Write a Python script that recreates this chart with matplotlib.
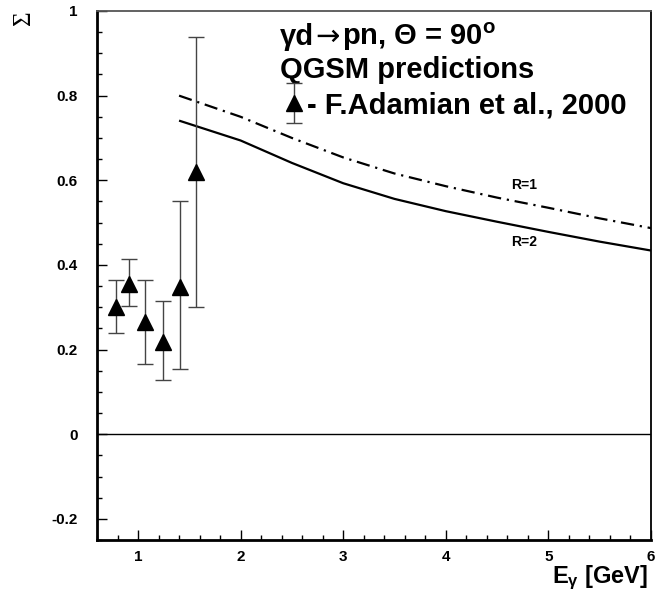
import matplotlib
matplotlib.use("Agg")
import matplotlib.pyplot as plt
from matplotlib.ticker import MultipleLocator, FuncFormatter
from matplotlib.legend_handler import HandlerErrorbar
from matplotlib.offsetbox import TextArea, HPacker, AnchoredOffsetbox

plt.rcParams['font.family'] = ['Liberation Sans', 'DejaVu Sans']
plt.rcParams['mathtext.fontset'] = 'custom'
plt.rcParams['mathtext.rm'] = 'Liberation Sans'
plt.rcParams['mathtext.bf'] = 'Liberation Sans:bold'
plt.rcParams['mathtext.it'] = 'Liberation Sans:italic'

# Data: F.Adamian et al., 2000
exp_E = [0.79, 0.91, 1.07, 1.24, 1.41, 1.565]
exp_sigma = [0.300, 0.356, 0.264, 0.218, 0.348, 0.619]
exp_err_lo = [0.060, 0.054, 0.099, 0.091, 0.195, 0.319]
exp_err_hi = [0.064, 0.057, 0.100, 0.097, 0.203, 0.320]

# QGSM predictions
qgsm_E = [1.4, 2.0, 2.5, 3.0, 3.5, 4.0, 4.5, 5.0, 5.5, 6.0]
qgsm_R1 = [0.800, 0.750, 0.700, 0.654, 0.616, 0.586, 0.559, 0.535, 0.510, 0.487]
qgsm_R2 = [0.741, 0.694, 0.641, 0.593, 0.556, 0.527, 0.502, 0.478, 0.455, 0.434]

FS = 21

fig = plt.figure(figsize=(6.67, 6.09), dpi=100)
ax = fig.add_axes([97/667, 69/609, 554/667, 529/609])

ax.set_xlim(0.6, 6.0)
ax.set_ylim(-0.25, 1.0)

ax.axhline(0, color='black', lw=1.0)

ax.plot(qgsm_E, qgsm_R2, color='black', lw=1.6, solid_capstyle='butt')
ax.plot(qgsm_E, qgsm_R1, color='black', lw=1.6,
        linestyle=(0, (6.0, 2.6, 1.0, 2.6)))

eb = ax.errorbar(exp_E, exp_sigma, yerr=[exp_err_lo, exp_err_hi], fmt='^',
                 color='black', markersize=11, ecolor='#444444', elinewidth=1.0,
                 capsize=6, capthick=1.0, mec='black')

ax.text(4.64, 0.59, 'R=1', fontsize=10, fontweight='bold', ha='left', va='center')
ax.text(4.64, 0.453, 'R=2', fontsize=10, fontweight='bold', ha='left', va='center')

# first title line: mixed fonts packed on a common baseline
ta1 = TextArea('γd', textprops=dict(fontsize=FS, fontweight='bold'))
ta2 = TextArea('→', textprops=dict(fontsize=FS, family='DejaVu Sans'))
ta3 = TextArea('pn, Θ = 90$^{\\mathbf{o}}$', textprops=dict(fontsize=FS, fontweight='bold'))
hp = HPacker(children=[ta1, ta2, ta3], align='baseline', pad=0, sep=1)
anch = AnchoredOffsetbox(loc='lower left', child=hp, pad=0, borderpad=0,
                         frameon=False, bbox_to_anchor=(2.386, 0.900),
                         bbox_transform=ax.transData)
ax.add_artist(anch)

ax.text(2.386, 0.842, 'QGSM predictions', fontsize=FS, fontweight='bold',
        ha='left', va='baseline')

leg = ax.legend([eb], ['- F.Adamian et al., 2000'], loc='center left',
                bbox_to_anchor=(0.334, 0.822), frameon=False,
                prop={'weight': 'bold', 'size': FS}, handlelength=0.8,
                handletextpad=0.05, borderpad=0, borderaxespad=0,
                handler_map={type(eb): HandlerErrorbar(yerr_size=0.70)})

# ticks
ax.xaxis.set_major_locator(MultipleLocator(1))
ax.xaxis.set_minor_locator(MultipleLocator(0.2))
ax.yaxis.set_major_locator(MultipleLocator(0.2))
ax.yaxis.set_minor_locator(MultipleLocator(0.05))
ax.yaxis.set_major_formatter(FuncFormatter(lambda v, p: ('%g' % round(v, 2)) if abs(v) > 1e-9 else '0'))
ax.xaxis.set_major_formatter(FuncFormatter(lambda v, p: '%g' % v))
ax.tick_params(which='both', direction='in', top=False, right=False, width=1.0)
ax.tick_params(which='major', length=7.5)
ax.tick_params(which='minor', length=3.6)
ax.tick_params(axis='y', which='major', pad=14)
ax.tick_params(axis='x', which='major', pad=7)
for lab in ax.get_xticklabels() + ax.get_yticklabels():
    lab.set_fontweight('bold')
    lab.set_fontsize(11)

for s in ['left', 'bottom']:
    ax.spines[s].set_linewidth(2.0)
for s in ['top', 'right']:
    ax.spines[s].set_linewidth(1.3)
ax.spines['top'].set_color('#555555')

fig.text(648/667, 1 - 578/609, r'E$_{\mathregular{γ}}$ [GeV]', fontsize=17,
         fontweight='bold', ha='right', va='center')
fig.text(24/667, 1 - 18/609, 'Σ', fontsize=18, family='Liberation Serif',
         rotation=90, ha='center', va='center')

fig.savefig('out.png', dpi=100)
